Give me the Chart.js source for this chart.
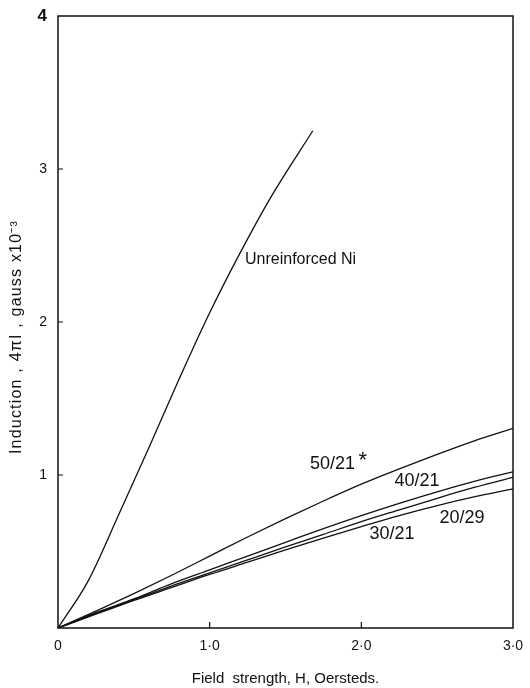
<!DOCTYPE html>
<html lang="en">
  <head>
    <meta charset="UTF-8" />
    <title>Induction vs field strength</title>
    <script src="https://cdn.jsdelivr.net/npm/chart.js"></script>
    <style>
      html, body { margin: 0; padding: 0; background: #fff; }
      #wrap { width: 530px; height: 688px; }
    </style>
  </head>
  <body>
    <div id="wrap"><canvas id="bhChart" width="530" height="688"></canvas></div>
    <script>
      // Field strength H (Oersteds) for the composite curves
      const fieldH = [0, 0.25, 0.5, 0.75, 1.0, 1.25, 1.5, 1.75, 2.0, 2.25, 2.5, 2.75, 3.0];
      // Induction 4πI (gauss x10^-3) per specimen
      const ni5021 = [0, 0.11, 0.225, 0.345, 0.47, 0.595, 0.715, 0.83, 0.94, 1.04, 1.135, 1.225, 1.305];
      const ni4021 = [0, 0.10, 0.19, 0.29, 0.38, 0.47, 0.56, 0.65, 0.735, 0.815, 0.89, 0.96, 1.02];
      const ni2029 = [0, 0.095, 0.185, 0.275, 0.36, 0.445, 0.53, 0.612, 0.695, 0.772, 0.848, 0.92, 0.985];
      const ni3021 = [0, 0.09, 0.18, 0.265, 0.35, 0.43, 0.51, 0.588, 0.663, 0.735, 0.80, 0.858, 0.91];
      // plain nickel, measured only up to ~1.7 Oe
      const plainH = [0, 0.2, 0.4, 0.6, 0.8, 1.0, 1.2, 1.4, 1.68];
      const plainB = [0, 0.31, 0.74, 1.18, 1.63, 2.06, 2.45, 2.81, 3.25];

      const xTicks = [0, 1, 2, 3];
      const yTicks = [1, 2, 3, 4];

      const yTitle = "Induction , 4\u03c0I , gauss x10\u207b\u00b3";

      // curve labels, anchored in data units
      const curveLabels = [
        { text: "Unreinforced Ni", x: 1.233, y: 2.405, size: 16, align: "left" },
        { text: "50/21", x: 1.81, y: 1.07, size: 18, align: "center" },
        { text: "*", x: 2.01, y: 1.095, size: 22, align: "center" },
        { text: "40/21", x: 2.367, y: 0.961, size: 18, align: "center" },
        { text: "20/29", x: 2.664, y: 0.719, size: 18, align: "center" },
        { text: "30/21", x: 2.202, y: 0.614, size: 18, align: "center" },
      ];

      const fontFamily = "'Liberation Sans', Arial, sans-serif";

      function pairs(xs, ys) {
        return xs.map((x, i) => ({ x: x, y: ys[i] }));
      }

      function curve(label, xs, ys) {
        return {
          label: label,
          data: pairs(xs, ys),
          borderColor: "#111",
          borderWidth: 1.3,
          pointRadius: 0,
          fill: false,
          showLine: true,
          cubicInterpolationMode: "monotone",
        };
      }

      // frame, inward tick marks, spaced-out y title and curve labels
      const framePlugin = {
        id: "frameAndLabels",
        afterDraw(chart) {
          const { ctx, chartArea: a, scales } = chart;
          const xs = scales.x;
          const ys = scales.y;
          ctx.save();
          ctx.strokeStyle = "#111";
          ctx.lineWidth = 1.5;
          ctx.strokeRect(a.left, a.top, a.right - a.left, a.bottom - a.top);

          ctx.lineWidth = 1.2;
          ctx.beginPath();
          xTicks.slice(1, -1).forEach((v) => {
            const px = xs.getPixelForValue(v);
            ctx.moveTo(px, a.bottom);
            ctx.lineTo(px, a.bottom - 6);
          });
          yTicks.slice(0, -1).forEach((v) => {
            const py = ys.getPixelForValue(v);
            ctx.moveTo(a.left, py);
            ctx.lineTo(a.left + 5, py);
          });
          ctx.stroke();

          ctx.fillStyle = "#111";
          ctx.textBaseline = "middle";

          ctx.save();
          ctx.translate(17, (a.top + a.bottom) / 2 + 15);
          ctx.rotate(-Math.PI / 2);
          ctx.font = "16px " + fontFamily;
          ctx.letterSpacing = "1.2px";
          ctx.textAlign = "center";
          ctx.fillText(yTitle, 0, 0);
          ctx.restore();

          curveLabels.forEach((l) => {
            ctx.font = l.size + "px " + fontFamily;
            ctx.textAlign = l.align;
            ctx.fillText(l.text, xs.getPixelForValue(l.x), ys.getPixelForValue(l.y));
          });
          ctx.restore();
        },
      };

      new Chart(document.getElementById("bhChart"), {
        type: "scatter",
        data: {
          datasets: [
            curve("Unreinforced Ni", plainH, plainB),
            curve("50/21", fieldH, ni5021),
            curve("40/21", fieldH, ni4021),
            curve("20/29", fieldH, ni2029),
            curve("30/21", fieldH, ni3021),
          ],
        },
        options: {
          responsive: false,
          animation: false,
          layout: { padding: { left: 0, right: 17, top: 16, bottom: 0 } },
          plugins: {
            legend: { display: false },
            tooltip: { enabled: false },
          },
          scales: {
            x: {
              type: "linear",
              min: 0,
              max: 3,
              afterFit: (s) => {
                s.height = 60;
                s.paddingLeft = 0;
                s.paddingRight = 0;
              },
              grid: { display: false, drawTicks: false },
              border: { display: false },
              afterBuildTicks: (s) => { s.ticks = xTicks.map((v) => ({ value: v })); },
              ticks: {
                padding: 10,
                color: "#111",
                font: { family: fontFamily, size: 14 },
                maxRotation: 0,
                autoSkip: false,
                callback: (v) => (v === 0 ? "0" : v.toFixed(1).replace(".", "\u00b7")),
              },
              title: {
                display: true,
                text: "Field  strength, H, Oersteds.",
                color: "#111",
                font: { family: fontFamily, size: 15 },
                padding: { top: 0, bottom: 0 },
              },
            },
            y: {
              type: "linear",
              min: 0,
              max: 4,
              afterFit: (s) => {
                s.width = 58;
                s.paddingTop = 0;
                s.paddingBottom = 0;
              },
              grid: { display: false, drawTicks: false },
              border: { display: false },
              afterBuildTicks: (s) => { s.ticks = yTicks.map((v) => ({ value: v })); },
              ticks: {
                padding: 11,
                color: "#111",
                font: (c) =>
                  c.tick && c.tick.value === 4
                    ? { family: fontFamily, size: 17, weight: "bold" }
                    : { family: fontFamily, size: 14 },
                callback: (v) => String(v),
              },
              title: { display: false },
            },
          },
        },
        plugins: [framePlugin],
      });
    </script>
  </body>
</html>
